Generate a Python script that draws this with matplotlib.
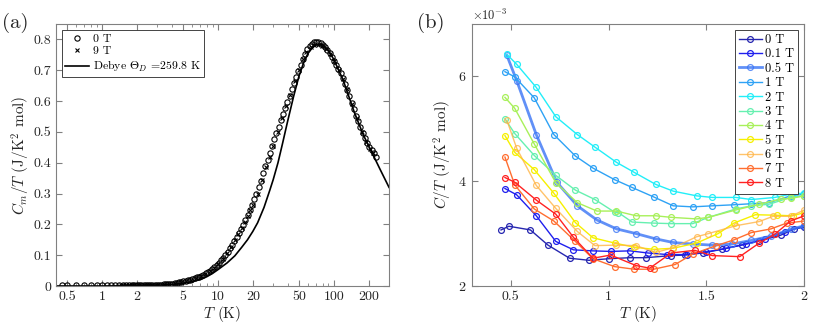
import matplotlib
matplotlib.use("Agg")
import matplotlib.pyplot as plt
from matplotlib.ticker import ScalarFormatter, NullFormatter

plt.rcParams["font.family"] = ["cmr10", "DejaVu Serif"]
plt.rcParams["mathtext.fontset"] = "cm"
plt.rcParams["axes.formatter.use_mathtext"] = True
plt.rcParams["axes.unicode_minus"] = False

# ---- panel (a): Cm/T vs T, log axis ----
T_0T = [0.45, 0.5, 0.6, 0.7, 0.8, 0.9, 1.0, 1.1, 1.2, 1.3, 1.4, 1.5, 1.6, 1.7, 1.8, 1.9,
        2.0, 2.09, 2.18, 2.28, 2.38, 2.49, 2.6, 2.72, 2.84, 2.97,
        3.1, 3.24, 3.39, 3.54, 3.7, 3.87, 4.04, 4.22, 4.41, 4.61,
        4.82, 5.04, 5.27, 5.5, 5.75, 6.01, 6.28, 6.56, 6.86, 7.17,
        7.49, 7.83, 8.18, 8.55, 8.93, 9.33, 9.75, 10.2, 10.65, 11.1,
        11.6, 12.15, 12.7, 13.25, 13.85, 14.5, 15.15, 15.8, 16.5, 17.25,
        18.05, 18.85, 19.7, 20.6, 21.5, 22.5, 23.5, 24.55, 25.65, 26.8,
        28, 29.25, 30.6, 32, 33.4, 34.9, 36.5, 38.1, 39.8, 41.6,
        43.5, 45.5, 47.5, 49.6, 51.9, 54.2, 56.6, 59.2, 61.8, 64.6,
        67.5, 70.6, 73.7, 77, 80.5, 84.1, 87.9, 91.9, 96, 100.3,
        104.8, 109.5, 114.5, 119.6, 125, 130.6, 136.5, 142.6, 149, 155.7,
        162.7, 170, 177.7, 185.7, 194, 202.7, 211.8, 221.4, 231.4]
C_0T = [0.002] * 16 + [
        0.002, 0.0022, 0.0024, 0.0026, 0.0028, 0.003, 0.0032, 0.0034, 0.0036, 0.0039,
        0.0042, 0.0045, 0.0049, 0.0053, 0.0058, 0.0065, 0.0077, 0.0088, 0.010, 0.0115,
        0.013, 0.0153, 0.017, 0.019, 0.021, 0.023, 0.0255, 0.028, 0.0305, 0.0335,
        0.037, 0.041, 0.045, 0.050, 0.055, 0.061, 0.067, 0.075, 0.083, 0.091,
        0.100, 0.111, 0.122, 0.133, 0.145, 0.158, 0.171, 0.185, 0.199, 0.214,
        0.231, 0.247, 0.264, 0.282, 0.300, 0.320, 0.342, 0.365, 0.388, 0.41,
        0.433, 0.455, 0.476, 0.497, 0.517, 0.537, 0.557, 0.576, 0.596, 0.617,
        0.638, 0.659, 0.679, 0.698, 0.718, 0.737, 0.753, 0.768, 0.778, 0.786,
        0.790, 0.791, 0.790, 0.787, 0.782, 0.775, 0.766, 0.756, 0.744, 0.730,
        0.717, 0.704, 0.690, 0.675, 0.656, 0.636, 0.615, 0.594, 0.573, 0.553,
        0.534, 0.515, 0.497, 0.480, 0.465, 0.452, 0.440, 0.430, 0.42]

T_9T = [1.45, 1.52, 1.6, 1.7, 1.8, 1.9, 2.1, 2.3, 2.5, 2.7, 3.0, 3.4, 3.8, 4.3, 4.8, 5.3, 5.9,
        6.5, 7.1, 7.8, 8.5, 9.2, 10, 11, 12, 13, 14, 15, 16, 17, 18, 19, 20,
        22, 24, 26, 28, 30, 33, 36, 39, 42, 46, 50,
        54, 58, 63, 68, 73, 79, 85, 92, 100,
        110, 120, 130, 145, 160, 175, 190, 205, 220]
C_9T = [0.002, 0.002, 0.002, 0.002, 0.002, 0.002, 0.0022, 0.0027, 0.003, 0.0035, 0.004,
        0.0053, 0.0062, 0.0085, 0.0125, 0.016, 0.021,
        0.026, 0.032, 0.039, 0.048, 0.057, 0.070, 0.088, 0.106, 0.126, 0.148, 0.168,
        0.188, 0.207, 0.226, 0.245, 0.264,
        0.30, 0.345, 0.385, 0.42, 0.455, 0.50, 0.545, 0.585, 0.62, 0.665, 0.70,
        0.735, 0.76, 0.775, 0.782, 0.783, 0.778, 0.768, 0.752, 0.73,
        0.70, 0.672, 0.64, 0.59, 0.545, 0.50, 0.468, 0.445, 0.43]

T_debye = [0.4, 1, 2, 3, 4, 5, 6, 7, 8, 9, 10, 12, 14, 16, 18, 20, 22, 25, 28, 30, 33,
           36, 40, 45, 50, 55, 60, 65, 70, 75, 80, 90, 100, 120, 150, 180, 200, 250, 300]
C_debye = [0, 0, 0.0008, 0.0025, 0.005, 0.009, 0.014, 0.021, 0.030, 0.041,
           0.053, 0.075, 0.098, 0.125, 0.15, 0.177, 0.205, 0.255, 0.31, 0.345,
           0.40, 0.46, 0.535, 0.615, 0.68, 0.725, 0.755, 0.772, 0.782, 0.785,
           0.783, 0.765, 0.735, 0.67, 0.565, 0.49, 0.455, 0.38, 0.32]

xticks_a = [0.5, 1, 2, 5, 10, 20, 50, 100, 200]
xticklabels_a = ["0.5", "1", "2", "5", "10", "20", "50", "100", "200"]

# ---- panel (b): C/T (x1e-3) vs T for each field ----
fields = ["0 T", "0.1 T", "0.5 T", "1 T", "2 T", "3 T", "4 T", "5 T", "6 T", "7 T", "8 T"]
colors = ["#2626b0", "#1f1fee", "#3a74f5", "#2ea2f5", "#22eef8", "#66f0b0",
          "#a8f05a", "#f6f000", "#ffb445", "#ff6e30", "#ff2222"]

T_b = {
    "0 T": [0.45, 0.49, 0.60, 0.69, 0.80, 0.90, 1.00, 1.11, 1.19, 1.32, 1.39, 1.48, 1.58, 1.68, 1.77, 1.88, 1.95, 2.00],
    "0.1 T": [0.47, 0.53, 0.63, 0.73, 0.82, 0.92, 1.01, 1.11, 1.20, 1.30, 1.40, 1.50, 1.60, 1.70, 1.80, 1.90, 2.00],
    "0.5 T": [0.48, 0.53, 0.63, 0.735, 0.84, 0.94, 1.04, 1.14, 1.24, 1.33, 1.43, 1.53, 1.63, 1.73, 1.83, 1.93, 2.00],
    "1 T": [0.47, 0.52, 0.62, 0.72, 0.83, 0.92, 1.03, 1.12, 1.23, 1.33, 1.43, 1.53, 1.64, 1.73, 1.82, 1.93, 2.00],
    "2 T": [0.48, 0.53, 0.63, 0.73, 0.84, 0.93, 1.04, 1.13, 1.24, 1.33, 1.45, 1.53, 1.65, 1.73, 1.85, 1.94, 2.00],
    "3 T": [0.47, 0.52, 0.62, 0.73, 0.83, 0.93, 1.03, 1.05, 1.12, 1.23, 1.32, 1.43, 1.51, 1.65, 1.73, 1.82, 1.93, 2.00],
    "4 T": [0.47, 0.52, 0.62, 0.73, 0.84, 0.94, 1.04, 1.14, 1.24, 1.32, 1.45, 1.51, 1.65, 1.77, 1.88, 1.93, 2.00],
    "5 T": [0.47, 0.52, 0.62, 0.72, 0.83, 0.92, 1.03, 1.13, 1.23, 1.33, 1.45, 1.56, 1.64, 1.75, 1.86, 1.94, 2.00],
    "6 T": [0.48, 0.53, 0.63, 0.73, 0.84, 0.93, 1.04, 1.14, 1.24, 1.33, 1.45, 1.51, 1.65, 1.77, 1.84, 1.93, 2.00],
    "7 T": [0.47, 0.52, 0.62, 0.72, 0.83, 0.92, 1.03, 1.13, 1.23, 1.34, 1.43, 1.55, 1.64, 1.73, 1.83, 1.91, 2.00],
    "8 T": [0.47, 0.52, 0.63, 0.73, 0.82, 0.92, 1.01, 1.14, 1.21, 1.32, 1.44, 1.53, 1.67, 1.77, 1.85, 1.93, 2.00],
}
CT_b = {
    "0 T": [3.07, 3.14, 3.07, 2.78, 2.53, 2.49, 2.52, 2.54, 2.54, 2.58, 2.59, 2.63, 2.70, 2.78, 2.86, 2.97, 3.09, 3.12],
    "0.1 T": [3.86, 3.74, 3.34, 2.85, 2.69, 2.67, 2.66, 2.67, 2.63, 2.60, 2.60, 2.65, 2.72, 2.80, 2.90, 3.03, 3.15],
    "0.5 T": [6.40, 5.92, 4.89, 3.98, 3.53, 3.26, 3.09, 3.00, 2.90, 2.83, 2.80, 2.78, 2.80, 2.87, 2.95, 3.08, 3.15],
    "1 T": [6.09, 5.99, 5.59, 4.89, 4.48, 4.25, 4.03, 3.88, 3.70, 3.53, 3.51, 3.53, 3.55, 3.57, 3.59, 3.72, 3.75],
    "2 T": [6.42, 6.23, 5.79, 5.23, 4.89, 4.65, 4.36, 4.17, 3.94, 3.81, 3.72, 3.69, 3.69, 3.65, 3.69, 3.76, 3.77],
    "3 T": [5.19, 4.91, 4.49, 4.11, 3.83, 3.65, 3.41, 3.40, 3.22, 3.20, 3.19, 3.19, 3.31, 3.47, 3.53, 3.56, 3.69, 3.72],
    "4 T": [5.60, 5.39, 4.71, 3.97, 3.59, 3.43, 3.43, 3.34, 3.34, 3.31, 3.28, 3.31, 3.45, 3.56, 3.66, 3.67, 3.72],
    "5 T": [4.87, 4.55, 4.22, 3.77, 3.21, 2.92, 2.82, 2.74, 2.70, 2.72, 2.82, 3.00, 3.20, 3.36, 3.35, 3.34, 3.40],
    "6 T": [5.16, 4.63, 3.92, 3.48, 3.04, 2.77, 2.78, 2.77, 2.64, 2.73, 2.94, 3.00, 3.15, 3.23, 3.33, 3.33, 3.45],
    "7 T": [4.46, 3.93, 3.47, 3.24, 2.85, 2.52, 2.37, 2.32, 2.32, 2.41, 2.61, 2.77, 2.88, 3.02, 3.09, 3.20, 3.24],
    "8 T": [4.07, 3.98, 3.64, 3.37, 2.93, 2.53, 2.59, 2.39, 2.34, 2.63, 2.68, 2.58, 2.56, 2.82, 2.99, 3.24, 3.34],
}

box = "#808080"
txt = "#262626"


def style_axes(ax):
    for s in ax.spines.values():
        s.set_color(box)
        s.set_linewidth(0.8)
    ax.tick_params(which="both", direction="in", top=True, right=True,
                   color=box, labelcolor=txt, labelsize=10)
    ax.tick_params(which="major", length=4)
    ax.tick_params(which="minor", length=2)


fig = plt.figure(figsize=(8.3, 3.23), dpi=100)
ax_a = fig.add_axes([0.0675, 0.1146, 0.4012, 0.8111])
ax_b = fig.add_axes([0.5683, 0.1146, 0.4007, 0.8111])

# (a)
ax_a.plot(T_0T, C_0T, "o", mfc="none", mec="k", ms=3.8, mew=0.8, label="0 T")
ax_a.plot(T_9T, C_9T, "x", color="k", ms=3, mew=0.8, label="9 T")
ax_a.plot(T_debye, C_debye, "-", color="k", lw=1.2,
          label=r"Debye $\Theta_D$ =259.8 K")
ax_a.set_xscale("log")
ax_a.set_xlim(0.4, 300)
ax_a.set_ylim(0, 0.85)
ax_a.set_xticks(xticks_a)
ax_a.set_xticklabels(xticklabels_a)
ax_a.xaxis.set_minor_formatter(NullFormatter())
ax_a.set_yticks([0, 0.1, 0.2, 0.3, 0.4, 0.5, 0.6, 0.7, 0.8])
ax_a.set_yticklabels(["0", "0.1", "0.2", "0.3", "0.4", "0.5", "0.6", "0.7", "0.8"])
style_axes(ax_a)
ax_a.set_xlabel(r"$T$ (K)", fontsize=11, color=txt, labelpad=1)
ax_a.set_ylabel(r"$C_m/T$ (J/K$^2$ mol)", fontsize=11, color=txt, labelpad=1)
leg = ax_a.legend(loc="upper left", fontsize=8.5, fancybox=False, edgecolor=txt,
                  framealpha=1, borderaxespad=0.5, handlelength=2.0,
                  labelspacing=0.2, borderpad=0.3, handletextpad=0.3)
leg.get_frame().set_linewidth(0.6)

# (b)
for f, c in zip(fields, colors):
    lw = 2.0 if f == "0.5 T" else 1.0
    alpha = 0.8 if f in ("0.5 T", "6 T") else 1.0
    ax_b.plot(T_b[f], [v * 1e-3 for v in CT_b[f]], "-o", color=c, lw=lw, alpha=alpha,
              mfc="none", mec=c, ms=4.2, mew=0.9, label=f)
ax_b.set_xlim(0.3, 2)
ax_b.set_ylim(0.002, 0.007)
ax_b.set_xticks([0.5, 1, 1.5, 2])
ax_b.set_xticklabels(["0.5", "1", "1.5", "2"])
ax_b.set_yticks([0.002, 0.004, 0.006])
fmt = ScalarFormatter(useMathText=True)
fmt.set_powerlimits((-3, -3))
ax_b.yaxis.set_major_formatter(fmt)
style_axes(ax_b)
ax_b.yaxis.get_offset_text().set_fontsize(9)
ax_b.yaxis.get_offset_text().set_color(txt)
ax_b.set_xlabel(r"$T$ (K)", fontsize=11, color=txt, labelpad=1)
ax_b.set_ylabel(r"$C/T$ (J/K$^2$ mol)", fontsize=11, color=txt, labelpad=3)
leg = ax_b.legend(loc="upper right", fontsize=9, fancybox=False, edgecolor=txt,
                  framealpha=1, borderaxespad=0.5, handlelength=1.8,
                  labelspacing=0.18, borderpad=0.3, handletextpad=0.3)
leg.get_frame().set_linewidth(0.6)

fig.text(0.002, 0.93, "(a)", fontsize=15, va="center", ha="left", color=txt)
fig.text(0.502, 0.93, "(b)", fontsize=15, va="center", ha="left", color=txt)

fig.savefig("out.png", dpi=100)
